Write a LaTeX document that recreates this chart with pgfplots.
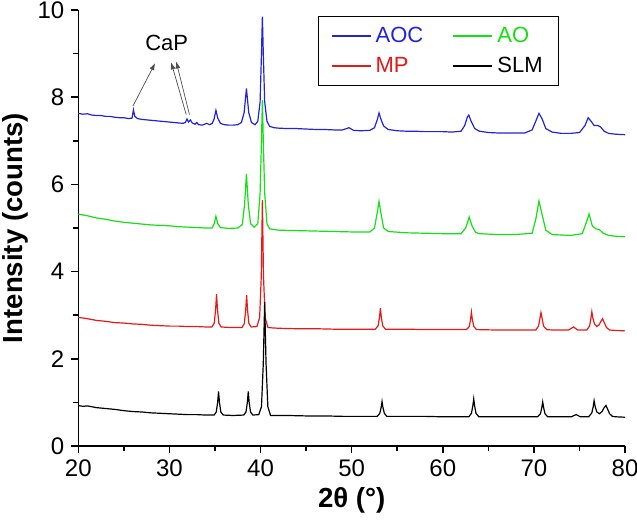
\documentclass[border=0pt]{standalone}
\usepackage{fontspec}
\setmainfont{Liberation Sans}
\usepackage{pgfplots}
\pgfplotsset{compat=1.18}
\usetikzlibrary{arrows.meta}
\definecolor{cblue}{RGB}{35,35,215}
\definecolor{cgreen}{RGB}{20,225,20}
\definecolor{cred}{RGB}{230,25,25}
\begin{document}
\begin{tikzpicture}
\begin{axis}[
  at={(0,0)}, anchor=south west,
  scale only axis, width=273.4pt, height=218pt,
  xmin=20, xmax=80, ymin=0, ymax=10,
  axis x line*=bottom, axis y line*=left,
  axis line style={line width=0.8pt, -},
  xtick={20,30,...,80}, ytick={0,2,...,10},
  minor x tick num=1, minor y tick num=1,
  tick align=outside,
  major tick length=3.5pt, minor tick length=2.5pt,
  every tick/.style={black, line width=0.8pt},
  tick label style={font=\fontsize{12}{14}\selectfont},
  /pgf/number format/assume math mode=true,
  xlabel={2θ (°)}, ylabel={Intensity (counts)},
  every axis x label/.style={at={(axis description cs:0.5,-0.124)}, anchor=center, font=\fontsize{13.8}{16}\selectfont\bfseries},
  every axis y label/.style={at={(axis description cs:-0.1157,0.5)}, rotate=90, anchor=center, font=\fontsize{13.8}{16}\selectfont\bfseries},
  legend style={at={(0.4385,0.986)}, anchor=north west, draw=black, line width=0.6pt,
    font=\fontsize{11}{13}\selectfont, inner xsep=6pt, inner ysep=3pt, row sep=2pt,
    /tikz/every even column/.append style={column sep=12.5pt}},
  legend columns=2,
  legend cell align=left,
  legend image code/.code={\draw[#1, line width=1pt] (0pt,0pt) -- (19.5pt,0pt);},
  clip=false,
]
\addplot[cblue, line width=0.6pt] coordinates {
(20,7.63) (20.5,7.61) (21,7.62) (21.5,7.59) (22,7.58) (22.5,7.58) (23,7.56) (23.5,7.56) (24,7.54) (24.5,7.53) (25,7.53) (25.5,7.51) (25.9,7.52) (26.05,7.71) (26.2,7.56) (26.5,7.51) (27,7.49) (27.5,7.48) (28,7.47) (28.5,7.46) (29,7.45) (29.5,7.44) (30,7.43) (30.5,7.42) (31,7.41) (31.5,7.40) (31.75,7.42) (31.93,7.50) (32.1,7.43) (32.3,7.48) (32.5,7.41) (32.8,7.38) (33.0,7.42) (33.2,7.37) (33.6,7.36) (34.1,7.40) (34.4,7.37) (34.7,7.40) (34.9,7.50) (35.1,7.70) (35.3,7.52) (35.6,7.40) (36,7.37) (36.5,7.36) (37,7.36) (37.5,7.37) (37.9,7.42) (38.2,7.65) (38.45,8.20) (38.7,7.65) (39.0,7.42) (39.4,7.37) (39.7,7.45) (39.95,7.9) (40.1,9.0) (40.2,9.85) (40.3,9.0) (40.45,7.9) (40.7,7.45) (41.0,7.33) (41.5,7.30) (42,7.29) (43,7.28) (44,7.28) (45,7.27) (46,7.26) (47,7.26) (48,7.25) (49,7.25) (49.7,7.30) (50.2,7.24) (51,7.23) (52,7.24) (52.5,7.30) (52.8,7.48) (53.0,7.64) (53.2,7.50) (53.5,7.34) (54,7.26) (55,7.23) (56,7.22) (57,7.22) (58,7.21) (59,7.21) (60,7.21) (61,7.20) (62,7.22) (62.4,7.35) (62.7,7.55) (62.85,7.59) (63.1,7.45) (63.5,7.28) (64,7.22) (65,7.19) (66,7.18) (67,7.18) (68,7.18) (69,7.18) (69.8,7.25) (70.2,7.45) (70.55,7.63) (70.9,7.50) (71.3,7.28) (72,7.20) (73,7.17) (74,7.17) (75,7.19) (75.6,7.35) (75.95,7.53) (76.3,7.44) (76.6,7.35) (77.0,7.35) (77.3,7.32) (77.7,7.22) (78.2,7.17) (79,7.15) (80,7.14)
};
\addlegendentry{\textcolor{cblue}{AOC}}
\addplot[cgreen, line width=0.6pt] coordinates {
(20,5.32) (21,5.28) (22,5.23) (23,5.20) (24,5.16) (25,5.13) (26,5.11) (27,5.09) (28,5.07) (29,5.06) (30,5.05) (31,5.03) (32,5.02) (33,5.01) (34,5.00) (34.7,5.00) (34.95,5.12) (35.1,5.27) (35.3,5.10) (35.6,5.01) (36.5,4.99) (37.5,5.00) (38.0,5.08) (38.25,5.55) (38.45,6.24) (38.65,5.55) (38.9,5.10) (39.3,5.02) (39.7,5.10) (39.95,5.8) (40.1,7.0) (40.2,7.93) (40.3,7.0) (40.45,5.8) (40.7,5.10) (41,4.98) (42,4.95) (44,4.94) (46,4.93) (48,4.92) (50,4.91) (52,4.91) (52.5,5.00) (52.8,5.35) (53.0,5.61) (53.2,5.35) (53.5,5.00) (54,4.92) (56,4.89) (58,4.88) (60,4.87) (62,4.87) (62.5,5.00) (62.9,5.25) (63.2,5.05) (63.6,4.90) (64,4.87) (66,4.85) (68,4.85) (69.8,4.88) (70.2,5.20) (70.55,5.62) (70.9,5.30) (71.3,4.95) (72,4.85) (74,4.83) (75.3,4.87) (75.7,5.10) (76.05,5.32) (76.4,5.05) (76.8,4.98) (77.2,4.96) (77.6,4.88) (78.2,4.83) (79,4.81) (80,4.80)
};
\addlegendentry{\textcolor{cgreen}{AO}}
\addplot[cred, line width=0.6pt] coordinates {
(20,2.95) (21,2.92) (22,2.88) (23,2.86) (24,2.83) (25,2.82) (26,2.80) (27,2.79) (28,2.77) (29,2.76) (30,2.75) (31,2.75) (32,2.74) (33,2.74) (34,2.73) (34.67,2.73) (34.92,2.82) (35.07,3.14) (35.17,3.48) (35.27,3.14) (35.42,2.82) (35.67,2.73) (36.5,2.72) (37.5,2.72) (37.97,2.72) (38.22,2.81) (38.37,3.12) (38.47,3.46) (38.57,3.12) (38.72,2.81) (38.97,2.73) (39.6,2.74) (39.9,2.95) (40.08,3.9) (40.2,5.64) (40.32,3.9) (40.5,2.95) (40.8,2.72) (41.2,2.71) (42,2.70) (44,2.69) (46,2.69) (48,2.68) (50,2.68) (52,2.68) (52.6,2.68) (52.9,2.76) (53.05,2.95) (53.15,3.16) (53.25,2.95) (53.4,2.76) (53.7,2.68) (56,2.68) (58,2.67) (60,2.67) (62,2.67) (62.6,2.67) (62.9,2.74) (63.04,2.9) (63.14,3.07) (63.24,2.9) (63.4,2.74) (63.7,2.67) (66,2.66) (68,2.66) (70.2,2.66) (70.5,2.75) (70.65,2.92) (70.77,3.06) (70.9,2.92) (71.05,2.75) (71.4,2.67) (72,2.66) (73.8,2.66) (74.34,2.73) (74.8,2.66) (75.8,2.66) (76.1,2.75) (76.25,2.93) (76.35,3.08) (76.47,2.93) (76.65,2.80) (76.9,2.74) (77.15,2.78) (77.35,2.86) (77.53,2.92) (77.7,2.84) (77.95,2.72) (78.3,2.66) (79,2.65) (80,2.64)
};
\addlegendentry{\textcolor{cred}{MP}}
\addplot[black, line width=0.6pt] coordinates {
(20.0,0.93) (20.5,0.91) (21,0.92) (22,0.88) (23,0.86) (24,0.84) (25,0.81) (26,0.79) (27,0.78) (28,0.76) (29,0.75) (30,0.74) (31,0.73) (32,0.72) (33,0.72) (34,0.71) (34.9,0.71) (35.14,0.78) (35.29,1.0) (35.39,1.25) (35.49,1.0) (35.64,0.78) (35.9,0.71) (37,0.70) (38.15,0.71) (38.4,0.78) (38.55,1.0) (38.65,1.25) (38.75,1.0) (38.9,0.78) (39.15,0.71) (39.8,0.72) (40.1,0.9) (40.3,1.9) (40.45,3.3) (40.6,1.9) (40.8,0.9) (41.1,0.70) (43,0.70) (45,0.69) (47,0.69) (49,0.68) (51,0.68) (52.8,0.68) (53.08,0.75) (53.23,0.88) (53.33,1.02) (53.43,0.88) (53.58,0.75) (53.85,0.68) (56,0.68) (58,0.68) (60,0.67) (62,0.67) (62.85,0.67) (63.14,0.75) (63.29,0.92) (63.39,1.08) (63.49,0.92) (63.64,0.75) (63.95,0.67) (66,0.67) (68,0.67) (70.4,0.67) (70.71,0.74) (70.86,0.88) (70.96,1.01) (71.06,0.88) (71.21,0.74) (71.5,0.67) (73,0.67) (74.1,0.67) (74.63,0.72) (75.1,0.67) (76.0,0.67) (76.35,0.76) (76.5,0.9) (76.6,1.04) (76.72,0.9) (76.9,0.78) (77.2,0.74) (77.5,0.8) (77.7,0.88) (77.9,0.93) (78.05,0.86) (78.3,0.74) (78.6,0.68) (79,0.67) (80,0.66)
};
\addlegendentry{SLM}
\node[font=\fontsize{11}{13}\selectfont] at (axis cs:29.7,9.24) {CaP};
\draw[-{Latex[length=3.5pt,width=2.5pt]}, black!70, line width=0.35pt] (axis cs:26.0,7.80) -- (axis cs:28.43,8.78);
\draw[-{Latex[length=3.5pt,width=2.5pt]}, black!70, line width=0.35pt] (axis cs:31.84,7.60) -- (axis cs:30.19,8.80);
\draw[-{Latex[length=3.5pt,width=2.5pt]}, black!70, line width=0.35pt] (axis cs:32.2,7.60) -- (axis cs:30.74,8.82);
\end{axis}
\pgfresetboundingbox
\path (-39.15pt,-40pt) rectangle (279.35pt,223pt);
\end{tikzpicture}
\end{document}
